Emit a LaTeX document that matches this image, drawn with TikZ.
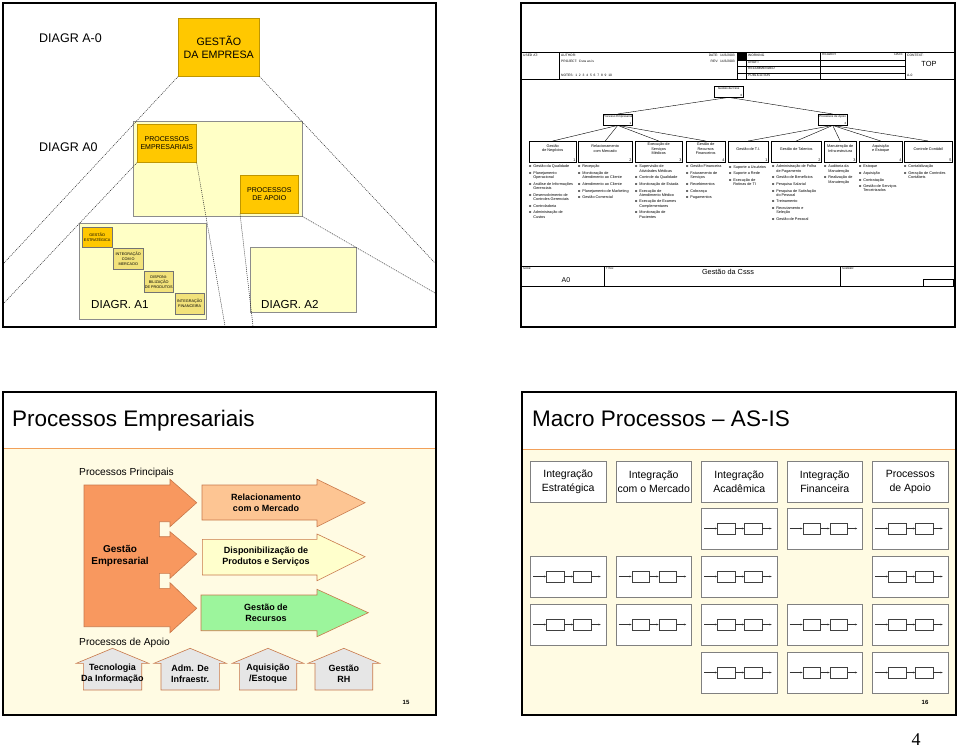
\documentclass[tikz,border=0pt]{standalone}
\usepackage{fontspec}
\setmainfont{Liberation Sans}
\newfontfamily\pagefont{Liberation Serif}
\usetikzlibrary{arrows.meta}
\definecolor{gold}{HTML}{FFC800}
\definecolor{paleyel}{HTML}{FFFFC6}
\definecolor{khaki}{HTML}{F2E27A}
\definecolor{orline}{HTML}{F2A05A}
\definecolor{cream}{HTML}{FFFBE3}
\definecolor{salmon}{HTML}{F8985F}
\definecolor{peach}{HTML}{FDC593}
\definecolor{lemon}{HTML}{FFFFCC}
\definecolor{mint}{HTML}{9CF59C}
\definecolor{roofgray}{HTML}{E6E6E6}
\definecolor{rim}{HTML}{C8784A}
\newcommand{\lbul}{\makebox[4.2pt][l]{\textbf{o}}}
\newcommand{\lind}{\hspace*{4.2pt}}
\newcommand{\lgap}{\\[2.3pt]}
\begin{document}
\begin{tikzpicture}[x=1pt,y=-1pt,
  every node/.style={inner sep=0pt},
  slide/.style={draw=black,line width=1.6pt},
  tline/.style={line width=0.4pt,black},
  dotline/.style={line width=0.5pt,black!85,dash pattern=on 1pt off 1pt},
  gbox/.style={draw=gold!75!black,line width=0.6pt,fill=gold,align=center,anchor=north west},
  ybox/.style={draw=black!45,line width=0.6pt,fill=paleyel,anchor=north west},
  kbox/.style={draw=black!55,line width=0.5pt,fill=khaki,align=center,anchor=north west,font=\fontsize{3.8}{5}\selectfont},
  diag/.style={anchor=base west,font=\fontsize{12.5}{14}\selectfont},
  tbox/.style={draw=black,line width=0.4pt,fill=white,anchor=north west},
  tlab/.style={align=center,font=\fontsize{3.8}{4.2}\selectfont},
  slab/.style={font=\fontsize{3}{3.2}\selectfont},
  lst/.style={anchor=north west,align=left,font=\fontsize{3.8}{4.3}\selectfont},
  hdr/.style={anchor=north west,font=\fontsize{3.3}{3.6}\selectfont},
  arr/.style={draw=rim,line width=0.6pt},
  house/.style={draw=rim,line width=0.6pt,fill=roofgray},
  blab/.style={align=center,font=\fontsize{9}{11}\selectfont\bfseries},
  stitle/.style={anchor=base west,font=\fontsize{22.5}{26}\selectfont},
  subhd/.style={anchor=base west,font=\fontsize{10.2}{12}\selectfont},
  hcell/.style={draw=black!50,line width=0.8pt,fill=white,align=center,anchor=north west,minimum width=75.7pt,minimum height=41pt,font=\fontsize{10.5}{13.3}\selectfont},
  cellbox/.style={draw=black!50,line width=0.8pt,fill=white,anchor=north west,minimum width=75.7pt,minimum height=41pt},
  minibox/.style={draw=black!75,line width=0.5pt,minimum width=17.7pt,minimum height=11pt},
  flow/.style={black!80,line width=0.5pt,-{Stealth[length=2.2pt,width=1.8pt]}},
  pnum/.style={font=\fontsize{6}{7}\selectfont\bfseries}
]
\useasboundingbox (0,0) rectangle (960,750);
\fill[white] (0,0) rectangle (960,750);

\node[ybox,minimum width=169pt,minimum height=95pt] (a0) at (133,121) {};
\node[gbox,minimum width=81pt,minimum height=58pt,font=\fontsize{10.7}{12.7}\selectfont] (ge) at (178,18) {GESTÃO\\DA EMPRESA};
\node[gbox,minimum width=59pt,minimum height=38pt,font=\fontsize{7}{8.3}\selectfont] (pe) at (137,124) {PROCESSOS\\EMPRESARIAIS};
\node[gbox,minimum width=58pt,minimum height=38pt,font=\fontsize{7}{8.3}\selectfont] (pa) at (240,175) {PROCESSOS\\DE APOIO};
\node[ybox,minimum width=127pt,minimum height=96pt] (a1) at (79,223) {};
\node[ybox,minimum width=106pt,minimum height=65pt] (a2) at (250,247) {};
\node[kbox,fill=gold,minimum width=30pt,minimum height=20pt] (k1) at (82,227) {GESTÃO\\ESTRATÉGICA};
\node[kbox,minimum width=30pt,minimum height=21pt] (k2) at (113,248) {INTEGRAÇÃO\\COM O\\MERCADO};
\node[kbox,minimum width=29pt,minimum height=21pt] (k3) at (144,271) {DISPONI-\\BILIZAÇÃO\\DE PRODUTOS};
\node[kbox,minimum width=29pt,minimum height=21pt] (k4) at (175,293) {INTEGRAÇÃO\\FINANCEIRA};
\node[diag] (d0) at (39,42.5) {DIAGR A-0};
\node[diag] (d1) at (39,151.5) {DIAGR A0};
\node[diag,font=\fontsize{11.6}{13}\selectfont] (d2) at (91,308) {DIAGR. A1};
\node[diag,font=\fontsize{11.6}{13}\selectfont] (d3) at (261,308) {DIAGR. A2};
\coordinate (e1) at (4,263);
\coordinate (e2) at (435,263);
\coordinate (e3) at (4,303);
\coordinate (e4) at (225,326);
\coordinate (e5) at (253,326);
\coordinate (e6) at (435,293);
\draw[dotline] (ge.south west) -- (e1);
\draw[dotline] (ge.south east) -- (e2);
\draw[dotline] (pe.south west) -- (e3);
\draw[dotline] (pe.south east) -- (e4);
\draw[dotline] (pa.south west) -- (e5);
\draw[dotline] (a0.south east) -- (e6);
\draw[slide] (3,3) rectangle (436,327);

\draw[tline] (521,52) -- (955,52);
\draw[tline] (521,79) -- (955,79);
\foreach \x in {559,737,746,820,905} \draw[tline] (\x,52) -- (\x,79);
\foreach \y in {60,66.3,72.7} \draw[tline] (737,\y) -- (905,\y);
\fill[black] (737,52) rectangle (746,60);
\node[hdr] (usedat) at (523,53.5) {USED AT:};
\node[hdr] (author) at (561,53.5) {AUTHOR:};
\node[hdr] (project) at (561,60) {PROJECT:\ \ Csss as is};
\node[hdr] (notes) at (561,73.5) {NOTES:\ \ 1\ \ 2\ \ 3\ \ 4\ \ 5\ \ 6\ \ 7\ \ 8\ \ 9\ \ 10};
\node[hdr,anchor=north east] (date) at (735,53.5) {DATE:\ \ 14/3/2003};
\node[hdr,anchor=north east] (rev) at (735,60) {REV:\ \ 14/3/2003};
\node[hdr] (working) at (748,53.5) {WORKING};
\node[hdr] (draft) at (748,60.8) {DRAFT};
\node[hdr] (recom) at (748,67.2) {RECOMMENDED};
\node[hdr] (public) at (748,73.6) {PUBLICATION};
\node[hdr] (reader) at (822,53.5) {READER};
\node[hdr,anchor=north east] (rdate) at (903,53.5) {DATE};
\node[hdr] (context) at (907,53.5) {CONTEXT:};
\node[font=\fontsize{7.4}{8}\selectfont] (top) at (929,64) {TOP};
\node[hdr] (ctxnode) at (907,73.6) {A-0};

\node[tbox,minimum width=29pt,minimum height=11pt] (root) at (714,86) {};
\node[slab,anchor=north] (rootl) at ([yshift=-1.2pt]root.north) {Gestão da Csss};
\node[slab,anchor=south east] (rootn) at ([xshift=-0.8pt,yshift=0.6pt]root.south east) {0};
\node[tbox,minimum width=29pt,minimum height=11pt] (p1) at (603,114) {};
\node[slab,anchor=north] (p1l) at ([yshift=-1.2pt]p1.north) {Processo Empresarial};
\node[slab,anchor=south east] (p1n) at ([xshift=-0.8pt,yshift=0.6pt]p1.south east) {1};
\node[tbox,minimum width=29pt,minimum height=11pt] (p2) at (818,114) {};
\node[slab,anchor=north] (p2l) at ([yshift=-1.2pt]p2.north) {Processos de Apoio};
\node[slab,anchor=south east] (p2n) at ([xshift=-0.8pt,yshift=0.6pt]p2.south east) {2};
\draw[tline] (root.south) -- (p1.north);
\draw[tline] (root.south) -- (p2.north);
\foreach \n/\xa/\xb/\lbl/\knum in {g1/529/576/{Gestão\\de Negócios}/1, g2/578/632/{Relacionamento\\com Mercado}/2, g3/635/682/{Execução de\\Serviços\\Médicos}/3, g4/686/725/{Gestão de\\Recursos\\Financeiros}/4, g5/728/768/{Gestão de T.I.}/1, g6/771/821/{Gestão de Talentos}/2, g7/824/856/{Manutenção de\\Infra-estrutura}/3, g8/859/902/{Aquisição\\e Estoque}/4, g9/904/952/{Controle Contábil}/5}{
  \pgfmathsetmacro\bw{\xb-\xa}
  \node[tbox,minimum width=\bw pt,minimum height=21pt] (\n) at (\xa,141) {};
  \node[tlab] (\n-l) at ([yshift=3pt]\n.center) {\lbl};
  \node[tlab,anchor=south east] (\n-n) at ([xshift=-0.8pt,yshift=0.8pt]\n.south east) {\knum};
}
\foreach \n in {g1,g2,g3,g4} \draw[tline] (p1.south) -- (\n.north);
\foreach \n in {g5,g6,g7,g8,g9} \draw[tline] (p2.south) -- (\n.north);
\node[lst] (l1) at (529,165) {\lbul Gestão da Qualidade\lgap
\lbul Planejamento\\\lind Operacional\lgap
\lbul Análise de Informações\\\lind Gerenciais\lgap
\lbul Desenvolvimento de\\\lind Controles Gerenciais\lgap
\lbul Controladoria\lgap
\lbul Administração de\\\lind Custos};
\node[lst] (l2) at (578,165) {\lbul Recepção\lgap
\lbul Monitoração de\\\lind Atendimento ao Cliente\lgap
\lbul Atendimento ao Cliente\lgap
\lbul Planejamento de Marketing\lgap
\lbul Gestão Comercial};
\node[lst] (l3) at (635,165) {\lbul Supervisão de\\\lind Atividades Médicas\lgap
\lbul Controle da Qualidade\lgap
\lbul Monitoração de Estada\lgap
\lbul Execução de\\\lind Atendimento Médico\lgap
\lbul Execução de Exames\\\lind Complementares\lgap
\lbul Monitoração de\\\lind Pacientes};
\node[lst] (l4) at (686,165) {\lbul Gestão Financeira\lgap
\lbul Faturamento de\\\lind Serviços\lgap
\lbul Recebimentos\lgap
\lbul Cobrança\lgap
\lbul Pagamentos};
\node[lst] (l5) at (729,165) {\lbul Suporte a Usuários\lgap
\lbul Suporte a Rede\lgap
\lbul Execução de\\\lind Rotinas de TI};
\node[lst] (l6) at (772,165) {\lbul Administração de Folha\\\lind de Pagamento\lgap
\lbul Gestão de Benefícios\lgap
\lbul Pesquisa Salarial\lgap
\lbul Pesquisa de Satisfação\\\lind do Pessoal\lgap
\lbul Treinamento\lgap
\lbul Recrutamento e\\\lind Seleção\lgap
\lbul Gestão de Pessoal};
\node[lst] (l7) at (824,165) {\lbul Auditoria da\\\lind Manutenção\lgap
\lbul Realização de\\\lind Manutenção};
\node[lst] (l8) at (859,165) {\lbul Estoque\lgap
\lbul Aquisição\lgap
\lbul Contratação\lgap
\lbul Gestão de Serviços\\\lind Terceirizados};
\node[lst] (l9) at (904,165) {\lbul Contabilização\lgap
\lbul Geração de Controles\\\lind Contábeis};

\draw[tline] (521,266) -- (955,266);
\draw[tline] (521,286) -- (955,286);
\draw[tline] (604,266) -- (604,286);
\draw[tline] (840,266) -- (840,286);
\draw[tline] (923,279.5) rectangle (953,286);
\node[hdr,font=\fontsize{2.6}{3}\selectfont] (nodehd) at (523,267.5) {NODE:};
\node[font=\fontsize{7}{8}\selectfont] (nodeval) at (566,280.5) {A0};
\node[hdr,font=\fontsize{2.6}{3}\selectfont] (titlehd) at (606,267.5) {TITLE:};
\node[font=\fontsize{7.3}{8}\selectfont] (titleval) at (728,271.5) {Gestão da Csss};
\node[hdr,font=\fontsize{2.6}{3}\selectfont] (numhd) at (842,267.5) {NUMBER:};
\draw[slide] (521,3) rectangle (955,327);

\fill[white] (3,392) rectangle (436,448);
\fill[cream] (3,448) rectangle (436,715);
\draw[orline,line width=1pt] (3,448) -- (436,448);
\node[stitle] (t1) at (12,426) {Processos Empresariais};
\node[subhd] (pp) at (79,475) {Processos Principais};
\filldraw[arr,fill=salmon] (84,485) -- (170,485) -- (170,479.3) -- (196.7,502.7) -- (170,526.7) -- (170,521.7) -- (159.3,521.7) -- (159.3,536.7) -- (170,536.7) -- (170,531.7) -- (196.7,554) -- (170,578.3) -- (170,573.3) -- (159.3,573.3) -- (159.3,588.3) -- (170,588.3) -- (170,582.7) -- (196.7,608.3) -- (170,632.7) -- (170,626.7) -- (84,626.7) -- cycle;
\node[blab,font=\fontsize{10}{12.3}\selectfont\bfseries] (gemp) at (120,556) {Gestão\\Empresarial};
\filldraw[arr,fill=peach] (202,485) -- (317,485) -- (317,479.3) -- (365,502.7) -- (317,526.7) -- (317,520) -- (202,520) -- cycle;
\node[blab] (rm) at (266,503) {Relacionamento\\com o Mercado};
\filldraw[arr,fill=lemon] (202.3,539.3) -- (317,539.3) -- (317,534) -- (365,556.7) -- (317,580.7) -- (317,575) -- (202.3,575) -- cycle;
\node[blab] (dp) at (266,557) {Disponibilização de\\Produtos e Serviços};
\filldraw[arr,fill=mint] (201,595) -- (317,595) -- (317,589.3) -- (368.3,612.7) -- (317,636.7) -- (317,630.7) -- (201,630.7) -- cycle;
\node[blab] (gr) at (266,613) {Gestão de\\Recursos};
\node[subhd] (pap) at (79,645) {Processos de Apoio};
\foreach \n/\xl/\xr/\lbl in {h1/83.3/141.7/{Tecnologia\\Da Informação}, h2/161/219.3/{Adm. De\\Infraestr.}, h3/239.3/296.7/{Aquisição\\/Estoque}, h4/315/372.7/{Gestão\\RH}}{
  \pgfmathsetmacro\xm{(\xl+\xr)/2}
  \filldraw[house] (\xl,690) -- (\xl,663.3) -- (\xl-7,663.3) -- (\xm,648.3) -- (\xr+7,663.3) -- (\xr,663.3) -- (\xr,690) -- cycle;
  \node[blab] (\n) at (\xm,673.5) {\lbl};
}
\node[pnum] (n15) at (406,702) {15};
\draw[slide] (3,392) rectangle (436,715);

\fill[white] (522,392) rectangle (956,449);
\fill[cream] (522,449) rectangle (956,715);
\draw[orline,line width=1pt] (522,449) -- (956,449);
\node[stitle] (t2) at (532,426) {Macro Processos – AS-IS};
\foreach \col/\lbl in {1/{Integração\\Estratégica},2/{Integração\\com o Mercado},3/{Integração\\Acadêmica},4/{Integração\\Financeira},5/{Processos\\de Apoio}}{
  \pgfmathsetmacro\xx{530+85.5*(\col-1)}
  \node[hcell] (hd\col) at (\xx,461) {\lbl};
}
\foreach \col/\row in {3/1,4/1,5/1,1/2,2/2,3/2,5/2,1/3,2/3,3/3,4/3,5/3,3/4,4/4,5/4}{
  \pgfmathsetmacro\xx{530+85.5*(\col-1)}
  \pgfmathsetmacro\yy{508+48*(\row-1)}
  \node[cellbox] (c\col\row) at (\xx,\yy) {};
  \node[minibox] (c\col\row-a) at (\xx+25.2,\yy+20.5) {};
  \node[minibox] (c\col\row-b) at (\xx+52.3,\yy+20.5) {};
  \coordinate (c\col\row-i) at (\xx+3,\yy+20.5);
  \coordinate (c\col\row-o) at (\xx+70.7,\yy+20.5);
  \draw[flow] (c\col\row-i) -- (c\col\row-a);
  \draw[flow] (c\col\row-a) -- (c\col\row-b);
  \draw[flow] (c\col\row-b) -- (c\col\row-o);
}
\node[pnum] (n16) at (925,702) {16};
\draw[slide] (522,392) rectangle (956,715);

\node[font=\pagefont\fontsize{18}{20}\selectfont] (pg) at (916,740) {4};
\end{tikzpicture}
\end{document}
